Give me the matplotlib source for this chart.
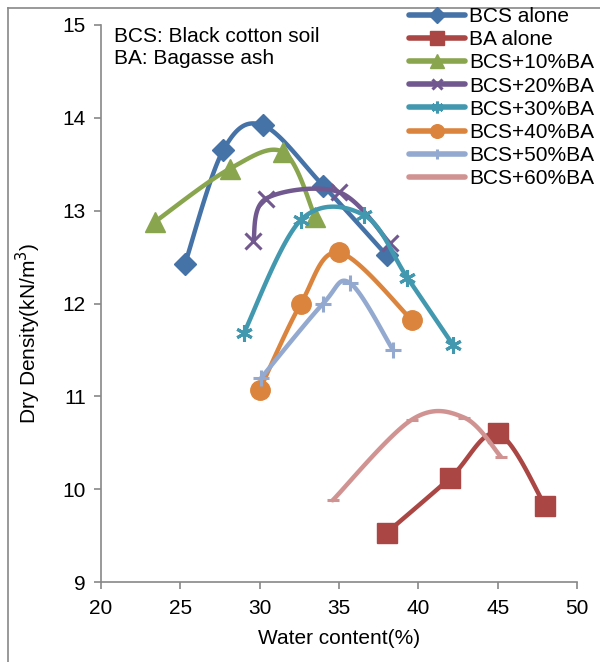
import numpy as np
import matplotlib.pyplot as plt
from matplotlib.lines import Line2D

plt.rcParams['font.family'] = ['Liberation Sans', 'DejaVu Sans']

labels = ['BCS alone', 'BA alone', 'BCS+10%BA', 'BCS+20%BA',
          'BCS+30%BA', 'BCS+40%BA', 'BCS+50%BA', 'BCS+60%BA']
water = [
    [25.3, 27.7, 30.2, 34.0, 38.0],
    [38.0, 42.0, 45.0, 48.0],
    [23.4, 28.1, 31.5, 33.5],
    [29.6, 30.4, 35.0, 38.2],
    [29.0, 32.6, 36.6, 39.3, 42.2],
    [30.0, 32.6, 35.0, 39.6],
    [30.1, 34.0, 35.7, 38.4],
    [34.6, 39.6, 42.9, 45.2],
]
density = [
    [12.43, 13.65, 13.92, 13.27, 12.52],
    [9.53, 10.12, 10.60, 9.82],
    [12.88, 13.45, 13.63, 12.93],
    [12.67, 13.13, 13.20, 12.65],
    [11.68, 12.90, 12.95, 12.28, 11.55],
    [11.07, 12.00, 12.55, 11.82],
    [11.20, 12.00, 12.22, 11.50],
    [9.88, 10.75, 10.77, 10.35],
]
colors = ['#4572A7', '#AA4643', '#89A54E', '#71588F',
          '#4198AF', '#DB843D', '#93A9CF', '#D19392']
markers = ['D', 's', '^', 'x', (6, 2, 0), 'o', '+', '_']
msizes = [11, 14, 14, 11, 12, 14, 11, 9]


def smooth(x, y, n=30):
    # excel-like smoothed line (catmull-rom bezier)
    p = np.column_stack([x, y])
    out = [p[0]]
    for i in range(len(p) - 1):
        p0 = p[i - 1] if i > 0 else p[i]
        p3 = p[i + 2] if i + 2 < len(p) else p[i + 1]
        c1 = p[i] + (p[i + 1] - p0) / 6
        c2 = p[i + 1] - (p3 - p[i]) / 6
        t = np.linspace(0, 1, n)[1:, None]
        seg = ((1 - t) ** 3 * p[i] + 3 * (1 - t) ** 2 * t * c1
               + 3 * (1 - t) * t ** 2 * c2 + t ** 3 * p[i + 1])
        out.extend(seg)
    out = np.array(out)
    return out[:, 0], out[:, 1]


fig = plt.figure(figsize=(6, 6.62), dpi=100)
ax = fig.add_axes([101 / 600, 1 - 582 / 662, 476 / 600, 557 / 662])

handles = []
for i in range(len(labels)):
    sx, sy = smooth(water[i], density[i])
    ax.plot(sx, sy, color=colors[i], lw=3.2, solid_capstyle='round', zorder=2 + i)
    thin = markers[i] in ('x', '+', '_') or isinstance(markers[i], tuple)
    mew = 2.2 if thin else 1
    ax.plot(water[i], density[i], ls='none', marker=markers[i], ms=msizes[i],
            color=colors[i], mec=colors[i], mew=mew, zorder=2 + i)
    handles.append(Line2D([], [], color=colors[i], lw=4, solid_capstyle='round',
                          marker=markers[i], ms=msizes[i] * 0.7, mec=colors[i],
                          mew=mew))

ax.set_xlim(20, 50)
ax.set_ylim(9, 15)
ax.set_xticks(range(20, 51, 5))
ax.set_yticks(range(9, 16))
for s in ['top', 'right']:
    ax.spines[s].set_visible(False)
for s in ['left', 'bottom']:
    ax.spines[s].set_color('#888888')
    ax.spines[s].set_linewidth(1.2)
ax.tick_params(colors='#888888', labelcolor='black', labelsize=15, length=5, width=1.2)
ax.tick_params(axis='x', pad=7)
ax.tick_params(axis='y', pad=6)
ax.set_xlabel('Water content(%)', fontsize=15, labelpad=8)
ax.set_ylabel('Dry Density(kN/m$^3$)', fontsize=15, va='center')
ax.yaxis.set_label_coords((28 - 101) / 476, (582 - 333) / 557)

ax.text(114 / 600, 1 - 36 / 662, 'BCS: Black cotton soil', transform=fig.transFigure,
        fontsize=15, va='center', ha='left')
ax.text(114 / 600, 1 - 59 / 662, 'BA: Bagasse ash', transform=fig.transFigure,
        fontsize=15, va='center', ha='left')

fig.legend(handles, labels, loc='upper left', bbox_to_anchor=(409 / 600, 1 - 7 / 662),
           frameon=False, fontsize=15, handlelength=2.7, handletextpad=0.2,
           labelspacing=0.2, borderaxespad=0, borderpad=0)

# grey border of the chart area (left and top edges)
fig.add_artist(Line2D([8 / 600, 8 / 600], [0, 1 - 8 / 662], transform=fig.transFigure,
                      color='#888888', lw=1.2))
fig.add_artist(Line2D([8 / 600, 1], [1 - 8 / 662, 1 - 8 / 662], transform=fig.transFigure,
                      color='#888888', lw=1.2))

plt.savefig('out.png', dpi=100)
